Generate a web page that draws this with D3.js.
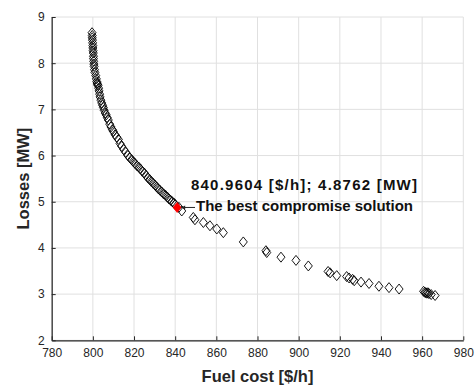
<!DOCTYPE html>
<html>
<head>
<meta charset="utf-8">
<script src="https://cdn.jsdelivr.net/npm/d3@7"></script>
<style>
  html, body { margin: 0; padding: 0; background: #fff; }
  svg { display: block; }
  text { font-family: "Liberation Sans", Arial, Helvetica, sans-serif; }
</style>
</head>
<body>
<svg id="chart" width="476" height="387"></svg>
<script>
// Pareto front: fuel cost [$/h]
const fuelCost = [
  799.6, 799.7, 799.7, 799.8, 799.9, 800.0, 800.0, 800.1, 800.2, 800.3,
  800.3, 800.4, 800.5, 800.6, 800.8, 801.0, 801.4, 801.7, 801.9, 802.1,
  802.3, 802.5, 802.8, 803.0, 803.3, 803.5, 803.9, 804.3, 804.7, 805.1,
  805.5, 806.0, 806.5, 807.0, 807.5, 808.2, 808.8, 809.5, 810.0, 810.8,
  811.6, 812.4, 813.2, 814.0, 815.0, 816.0, 817.0, 818.0, 818.8, 819.6,
  820.5, 821.4, 822.3, 823.1, 824.0, 825.0, 825.8, 826.7, 827.6, 828.4,
  829.3, 830.2, 831.0, 831.8, 832.6, 833.5, 834.4, 835.3, 836.2, 837.0,
  837.8, 838.6, 839.4, 840.0, 841.8, 843.2,
  848.8, 849.6, 853.7, 856.9, 860.2, 863.4, 873.1, 884.1, 884.5, 891.4,
  898.7, 904.7, 914.3, 915.3, 918.5, 923.3, 924.5, 926.2, 927.0, 930.3,
  934.2, 939.0, 943.9, 948.8, 960.7, 961.3, 961.8, 962.3, 962.8, 963.3,
  964.4, 966.3
];
// Pareto front: transmission losses [MW]
const losses = [
  8.66, 8.60, 8.55, 8.50, 8.44, 8.38, 8.33, 8.27, 8.22, 8.15,
  8.10, 8.04, 7.98, 7.93, 7.86, 7.80, 7.73, 7.66, 7.60, 7.57,
  7.54, 7.52, 7.46, 7.40, 7.33, 7.27, 7.20, 7.14, 7.09, 7.04,
  6.98, 6.92, 6.88, 6.82, 6.77, 6.68, 6.62, 6.56, 6.52, 6.45,
  6.40, 6.35, 6.26, 6.20, 6.13, 6.07, 6.00, 5.95, 5.91, 5.87,
  5.83, 5.78, 5.75, 5.71, 5.66, 5.62, 5.57, 5.52, 5.48, 5.44,
  5.40, 5.36, 5.32, 5.28, 5.25, 5.21, 5.17, 5.14, 5.10, 5.06,
  5.03, 5.00, 4.97, 4.94, 4.88, 4.80,
  4.66, 4.61, 4.55, 4.48, 4.41, 4.33, 4.13, 3.94, 3.90, 3.80,
  3.73, 3.61, 3.49, 3.46, 3.40, 3.38, 3.35, 3.32, 3.29, 3.26,
  3.23, 3.17, 3.14, 3.11, 3.06, 3.04, 3.03, 3.02, 3.03, 3.01,
  2.99, 2.97
];
// Best compromise solution
const bestCost = 840.9604;
const bestLoss = 4.8762;

const xTicks = [780, 800, 820, 840, 860, 880, 900, 920, 940, 960, 980];
const yTicks = [2, 3, 4, 5, 6, 7, 8, 9];

const svg = d3.select("#chart");
const plot = { left: 51.7, right: 463.3, top: 17, bottom: 340.3 };

const x = d3.scaleLinear().domain([780, 980]).range([plot.left, plot.right]);
const y = d3.scaleLinear().domain([2, 9]).range([plot.bottom, plot.top]);

// grid
const grid = svg.append("g");
grid.selectAll("line.gx").data(xTicks).join("line")
  .attr("x1", d => x(d)).attr("x2", d => x(d))
  .attr("y1", plot.top).attr("y2", plot.bottom)
  .attr("stroke", "#e0e0e0").attr("stroke-width", 1);
grid.selectAll("line.gy").data(yTicks).join("line")
  .attr("x1", plot.left).attr("x2", plot.right)
  .attr("y1", d => y(d)).attr("y2", d => y(d))
  .attr("stroke", "#e0e0e0").attr("stroke-width", 1);

// axes (ticks pointing inward)
const xAxis = svg.append("g")
  .attr("transform", `translate(0,${plot.bottom})`)
  .call(d3.axisBottom(x).tickValues(xTicks).tickFormat(d3.format("d"))
    .tickSizeInner(-4).tickSizeOuter(0).tickPadding(8));
const yAxis = svg.append("g")
  .attr("transform", `translate(${plot.left},0)`)
  .call(d3.axisLeft(y).tickValues(yTicks).tickFormat(d3.format("d"))
    .tickSizeInner(-4).tickSizeOuter(0).tickPadding(7));
[xAxis, yAxis].forEach(a => {
  a.select(".domain").attr("stroke", "#262626").attr("stroke-width", 1.2);
  a.selectAll(".tick line").attr("stroke", "#262626");
  a.selectAll(".tick text").attr("fill", "#262626")
    .style("font-size", "12px")
    .style("font-family", "'Liberation Sans', Arial, sans-serif");
});

// diamond marker path
const diamond = (cx, cy) => {
  const hw = 4, hh = 5;
  return `M${cx},${cy - hh}L${cx + hw},${cy}L${cx},${cy + hh}L${cx - hw},${cy}Z`;
};

const pts = fuelCost.map((c, i) => ({ c, l: losses[i] }));
svg.append("g").selectAll("path").data(pts).join("path")
  .attr("d", d => diamond(x(d.c), y(d.l)))
  .attr("fill", "none")
  .attr("stroke", "#000")
  .attr("stroke-width", 0.9);

// best compromise marker
svg.append("path")
  .attr("d", diamond(x(bestCost), y(bestLoss)))
  .attr("fill", "#ff0000")
  .attr("stroke", "#ff0000")
  .attr("stroke-width", 0.8);

// annotation
const ax = x(bestCost), ay = y(bestLoss);
svg.append("line")
  .attr("x1", ax + 4).attr("y1", ay)
  .attr("x2", 195).attr("y2", ay)
  .attr("stroke", "#262626").attr("stroke-width", 1);
svg.append("path")
  .attr("d", `M${ax + 4},${ay}L${ax + 8},${ay - 2}L${ax + 8},${ay + 2}Z`)
  .attr("fill", "#262626");

svg.append("text")
  .attr("x", 191).attr("y", 190)
  .attr("font-weight", "bold").attr("font-size", "15px").attr("fill", "#111")
  .attr("textLength", 226).attr("lengthAdjust", "spacing")
  .text(`${bestCost.toFixed(4)} [$/h]; ${bestLoss.toFixed(4)} [MW]`);
svg.append("text")
  .attr("x", 196).attr("y", 211)
  .attr("font-weight", "bold").attr("font-size", "15px").attr("fill", "#111")
  .attr("textLength", 217).attr("lengthAdjust", "spacing")
  .text("The best compromise solution");

// axis titles
svg.append("text")
  .attr("x", (plot.left + plot.right) / 2).attr("y", 381.5)
  .attr("text-anchor", "middle")
  .attr("font-weight", "bold").attr("font-size", "16.5px").attr("fill", "#262626")
  .text("Fuel cost [$/h]");
svg.append("text")
  .attr("transform", `translate(29,${(plot.top + plot.bottom) / 2}) rotate(-90)`)
  .attr("text-anchor", "middle")
  .attr("font-weight", "bold").attr("font-size", "16.5px").attr("fill", "#262626")
  .text("Losses [MW]");
</script>
</body>
</html>
